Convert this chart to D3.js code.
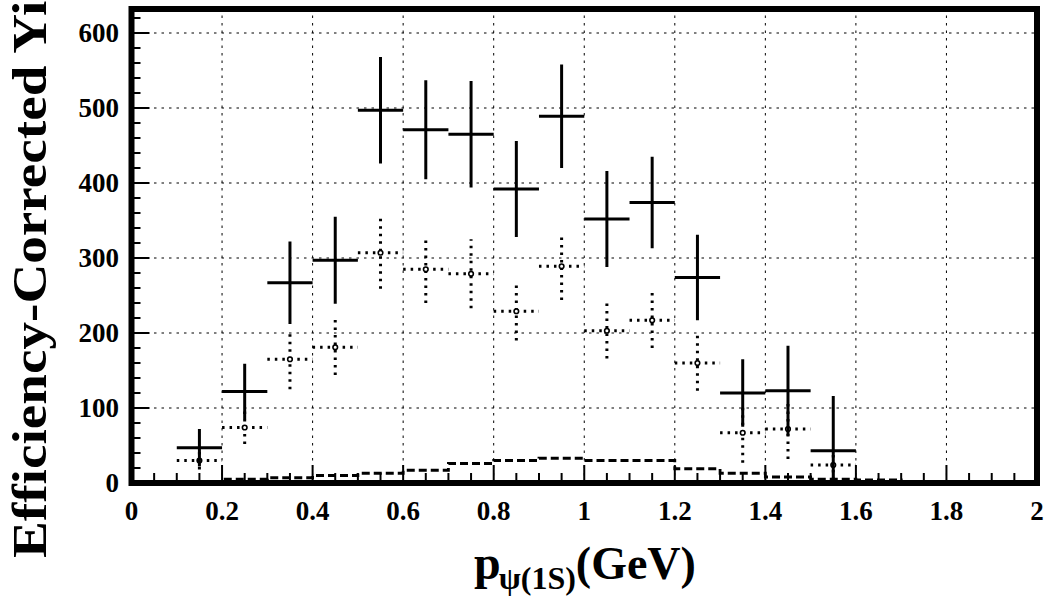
<!DOCTYPE html>
<html>
<head>
<meta charset="utf-8">
<script src="https://cdn.jsdelivr.net/npm/d3@7"></script>
<style>
  body { margin: 0; background: #fff; }
  text { font-family: "Liberation Serif", "Times New Roman", serif; font-weight: bold; }
</style>
</head>
<body>
<svg id="chart" width="1048" height="600"></svg>
<script>
// bin centres (GeV), width 0.1
const binCenters = [0.15, 0.25, 0.35, 0.45, 0.55, 0.65, 0.75, 0.85, 0.95, 1.05, 1.15, 1.25, 1.35, 1.45, 1.55]

// solid crosses
const solidVals = [47, 122, 267, 297, 497, 471, 465, 392, 489, 352, 374, 274, 120, 123, 43]
const solidErrs = [25, 37, 55, 58, 71, 66, 71, 64, 69, 64, 61, 57, 45, 60, 73]

// dotted crosses
const dottedVals = [30, 74, 165, 181, 307, 285, 279, 229, 289, 203, 217, 160, 67, 72, 24]
const dottedErrs = [12, 22, 40, 37, 48, 45, 46, 39, 45, 37, 37, 37, 40, 40, 20]

// dashed histogram, bins 0.0-0.1 ... 1.9-2.0
const histEdges = d3.range(0, 2.0001, 0.1).map(v => +v.toFixed(1))
const histVals = [0, 1, 5, 7, 10, 13, 17, 26, 30, 33, 30, 30, 19, 13, 8, 5, 4, 0, 0, 0]

const xTickLabels = ["0", "0.2", "0.4", "0.6", "0.8", "1", "1.2", "1.4", "1.6", "1.8", "2"]
const yTickLabels = ["0", "100", "200", "300", "400", "500", "600"]

const halfBin = 0.05

var svg = d3.select("#chart")

var x = d3.scaleLinear().domain([0, 2]).range([131.5, 1037])
var y = d3.scaleLinear().domain([0, 632]).range([483, 9])

// grid
var grid = svg.append("g").attr("class", "grid")
grid.selectAll(".gx")
    .data(xTickLabels.map(Number).filter(v => v > 0 && v < 2))
    .enter().append("line")
    .attr("x1", d => x(d)).attr("x2", d => x(d))
    .attr("y1", y(0)).attr("y2", y(632))
    .style("stroke", "#000").style("stroke-width", 1)
    .style("stroke-dasharray", "2.5,5")
grid.selectAll(".gy")
    .data(yTickLabels.map(Number).filter(v => v > 0))
    .enter().append("line")
    .attr("x1", x(0)).attr("x2", x(2))
    .attr("y1", d => y(d)).attr("y2", d => y(d))
    .style("stroke", "#000").style("stroke-width", 1)
    .style("stroke-dasharray", "2.5,5")

// ticks (drawn inside the frame)
var ticks = svg.append("g").attr("class", "ticks")
ticks.selectAll(".tx")
    .data(d3.range(0, 2.0001, 0.05))
    .enter().append("line")
    .attr("x1", d => x(d)).attr("x2", d => x(d))
    .attr("y1", y(0))
    .attr("y2", (d, i) => y(0) - (i % 4 == 0 ? 18 : 10))
    .style("stroke", "#000").style("stroke-width", 2)
ticks.selectAll(".ty")
    .data(d3.range(0, 621, 20))
    .enter().append("line")
    .attr("y1", d => y(d)).attr("y2", d => y(d))
    .attr("x1", x(0))
    .attr("x2", (d, i) => x(0) + (i % 5 == 0 ? 18 : 9))
    .style("stroke", "#000").style("stroke-width", 2)

// dashed histogram
var histPts = histVals.map((v, i) => [histEdges[i], v])
histPts.push([histEdges[histEdges.length - 1], histVals[histVals.length - 1]])
var histLine = d3.line()
    .x(d => x(d[0]))
    .y(d => y(d[1]))
    .curve(d3.curveStepAfter)
svg.append("path")
    .datum(histPts)
    .attr("d", histLine)
    .style("fill", "none")
    .style("stroke", "#000")
    .style("stroke-width", 2.8)
    .style("stroke-dasharray", "8,4")

function drawCrosses(vals, errs, dash, cls, marker) {
    var g = svg.append("g").attr("class", cls)
    var pts = binCenters.map((c, i) => ({ c: c, v: vals[i], e: errs[i] }))
    g.selectAll(".h")
        .data(pts)
        .enter().append("line")
        .attr("x1", d => x(d.c - halfBin)).attr("x2", d => x(d.c + halfBin))
        .attr("y1", d => y(d.v)).attr("y2", d => y(d.v))
        .style("stroke", "#000").style("stroke-width", 3)
        .style("stroke-dasharray", dash)
    g.selectAll(".v")
        .data(pts)
        .enter().append("line")
        .attr("x1", d => x(d.c)).attr("x2", d => x(d.c))
        .attr("y1", d => y(Math.max(0, d.v - d.e))).attr("y2", d => y(d.v + d.e))
        .style("stroke", "#000").style("stroke-width", 3)
        .style("stroke-dasharray", dash)
    if (!marker) return
    g.selectAll(".m")
        .data(pts)
        .enter().append("circle")
        .attr("cx", d => x(d.c)).attr("cy", d => y(d.v))
        .attr("r", 2.3)
        .style("fill", "#fff").style("stroke", "#000").style("stroke-width", 1.6)
}

drawCrosses(dottedVals, dottedErrs, "2.5,5", "dotted", true)
drawCrosses(solidVals, solidErrs, null, "solid", false)

// frame
svg.append("rect")
    .attr("x", x(0)).attr("y", y(632))
    .attr("width", x(2) - x(0)).attr("height", y(0) - y(632))
    .style("fill", "none").style("stroke", "#000").style("stroke-width", 6)

// tick labels
svg.append("g").selectAll("text")
    .data(xTickLabels)
    .enter().append("text")
    .attr("x", d => x(+d))
    .attr("y", 520)
    .attr("text-anchor", "middle")
    .attr("font-size", 27)
    .text(d => d)
svg.append("g").selectAll("text")
    .data(yTickLabels)
    .enter().append("text")
    .attr("x", 119)
    .attr("y", d => y(+d))
    .attr("dy", "0.35em")
    .attr("text-anchor", "end")
    .attr("font-size", 27)
    .text(d => d)

// axis titles
var xt = svg.append("text")
    .attr("x", 474).attr("y", 579)
    .attr("font-size", 48)
xt.append("tspan").text("p")
xt.append("tspan").attr("font-size", 32).attr("dy", 10).attr("dx", -2).text("ψ(1S)")
xt.append("tspan").attr("font-size", 46).attr("dy", -10).text("(GeV)")

svg.append("text")
    .attr("transform", "translate(46,558) rotate(-90) scale(1.15,1)")
    .attr("font-size", 48)
    .text("Efficiency-Corrected Yield")
</script>
</body>
</html>
